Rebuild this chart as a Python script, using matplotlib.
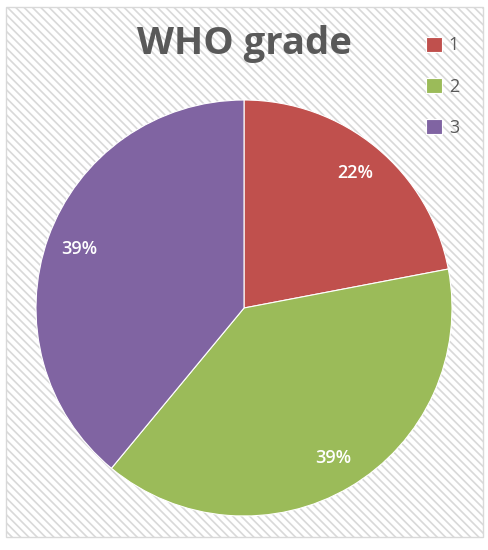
import matplotlib.pyplot as plt
from matplotlib.patches import Rectangle

# chart data
grades = ['1', '2', '3']
shares = [22, 39, 39]
colors = ['#C0504D', '#9BBB59', '#8064A2']

plt.rcParams['font.family'] = ['Open Sans', 'DejaVu Sans']
plt.rcParams['hatch.linewidth'] = 1.2
plt.rcParams['hatch.color'] = '#f1f1f1'

W, H = 489, 550
fig = plt.figure(figsize=(W / 100, H / 100), dpi=100)

# hatched chart area with light border
bg = fig.add_axes([0, 0, 1, 1])
bg.set_xlim(0, W)
bg.set_ylim(H, 0)
bg.axis('off')
bg.add_patch(Rectangle((6, 7), 477, 530, facecolor='white', edgecolor='#d9d9d9',
                       hatch='\\\\\\\\', linewidth=1.0))

# pie
cx, cy, r = 244, 308, 208
ax = fig.add_axes([(cx - r) / W, (H - cy - r) / H, 2 * r / W, 2 * r / H])
wedges, texts, autotexts = ax.pie(
    shares, colors=colors, startangle=90, counterclock=False,
    autopct='%1.0f%%', pctdistance=0.84,
    wedgeprops=dict(edgecolor='white', linewidth=0.8),
    textprops=dict(color='white', fontsize=13, fontweight='semibold'))
ax.set_xlim(-1, 1)
ax.set_ylim(-1, 1)
ax.set_aspect('auto')
ax.axis('off')

fig.text(244 / W, 1 - 44 / H, 'WHO grade', ha='center', va='center',
         fontsize=27.5, fontweight='bold', color='#595959')

leg = fig.legend(wedges, grades, loc='upper left', bbox_to_anchor=(410 / W, 1 - 20 / H),
                 frameon=False, fontsize=13, labelspacing=1.3, handlelength=0.9,
                 handleheight=0.9, handletextpad=0.35)
for t in leg.get_texts():
    t.set_color('#595959')

fig.savefig('out.png', dpi=100)
